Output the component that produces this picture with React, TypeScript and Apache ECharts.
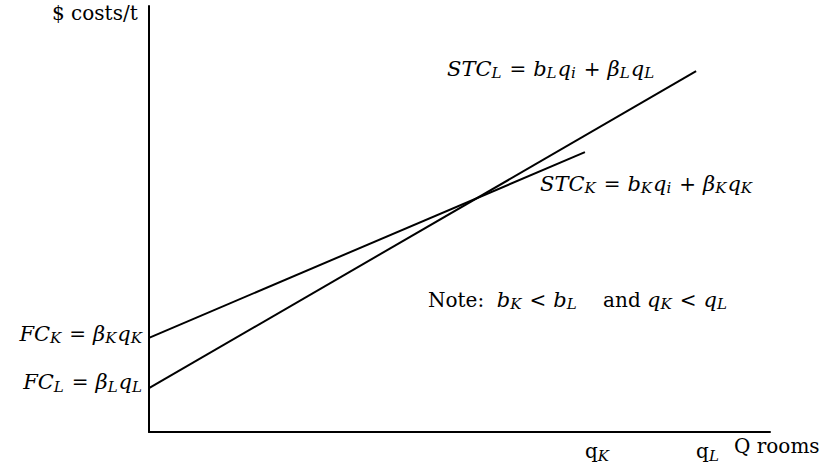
import React, { useEffect, useRef } from "react";
import * as echarts from "echarts";

// Line K (smaller b, larger fixed cost)
const lineKX = [0, 70.2];
const lineKY = [22.1, 65.7];
// Line L (larger b, smaller fixed cost)
const lineLX = [0, 88.1];
const lineLY = [10.3, 84.7];

const xTickValues = [70.2, 88.1];
const xTickLabels = ["{q|q}{s|K}", "{q|q}{s|L}"];
const yTickValues = [22.1, 10.3];
const yTickLabels = [
  "{i|FC}{s|K}{o|=}{i|β}{s|K}{i|q}{s|K}\n{gk|}",
  "{i|FC}{s|L}{o|=}{i|β}{s|L}{i|q}{s|L}\n{gl|}",
];
const yAxisTitle = "{r|$ costs/t}";
const xAxisTitle = "{r|Q rooms}";
const labelSTCL = "{i|STC}{s|L}{o|=}{i|b}{s|L}{i|q}{s|i}{o|+}{i|β}{s|L}{i|q}{s|L}";
const labelSTCK = "{i|STC}{s|K}{o|=}{i|b}{s|K}{i|q}{s|i}{o|+}{i|β}{s|K}{i|q}{s|K}";
const noteLabel = "{r|Note:  }{i|b}{s|K}{o|<}{i|b}{s|L}{r|    and }{i|q}{s|K}{o|<}{i|q}{s|L}";

const FONT = '"DejaVu Serif", "Liberation Serif", serif';
const rich: any = {
  r: { fontFamily: FONT, fontSize: 20, lineHeight: 24, color: "#000" },
  o: { fontFamily: FONT, fontSize: 20, lineHeight: 24, color: "#000", padding: [0, 7, 0, 7] },
  q: { fontFamily: FONT, fontSize: 20, lineHeight: 24, color: "#000" },
  i: { fontFamily: FONT, fontSize: 21, lineHeight: 24, fontStyle: "italic", color: "#000" },
  s: {
    fontFamily: FONT,
    fontSize: 15,
    lineHeight: 14,
    fontStyle: "italic",
    color: "#000",
    verticalAlign: "bottom",
    padding: [0, 1, 0, 0],
  },
  gk: { fontSize: 1, lineHeight: 8 },
  gl: { fontSize: 1, lineHeight: 12 },
};

function pairs(xs: number[], ys: number[]) {
  return xs.map((x, k) => [x, ys[k]]);
}

export default function App() {
  const ref = useRef<HTMLDivElement>(null);
  useEffect(() => {
    if (!ref.current) return;
    const chart = echarts.init(ref.current, null, { renderer: "svg" });
    const txt = (left: number, top: number, text: string, align = "left") => ({
      type: "text",
      left,
      top,
      style: { text, rich, align, fill: "#000" },
    });
    chart.setOption({
      animation: false,
      backgroundColor: "#fff",
      grid: { left: 149, right: 56, top: 6, bottom: 33, outerBoundsMode: "none" },
      xAxis: {
        type: "value",
        min: 0,
        max: 100,
        splitLine: { show: false },
        axisTick: { show: false },
        axisLine: { show: true, lineStyle: { color: "#000", width: 2 } },
        axisLabel: {
          customValues: xTickValues,
          formatter: (v: number) => xTickLabels[xTickValues.indexOf(v)] ?? "",
          rich,
          align: "left",
          margin: 7,
          showMinLabel: true,
          showMaxLabel: true,
        },
      },
      yAxis: {
        type: "value",
        min: 0,
        max: 100,
        splitLine: { show: false },
        axisTick: { show: false },
        axisLine: { show: true, lineStyle: { color: "#000", width: 2 } },
        axisLabel: {
          customValues: yTickValues,
          formatter: (v: number) => yTickLabels[yTickValues.indexOf(v)] ?? "",
          rich,
          margin: 6,
        },
      },
      series: [
        {
          type: "line",
          data: pairs(lineKX, lineKY),
          symbol: "none",
          lineStyle: { color: "#000", width: 2 },
        },
        {
          type: "line",
          data: pairs(lineLX, lineLY),
          symbol: "none",
          lineStyle: { color: "#000", width: 2 },
        },
      ],
      graphic: [
        txt(52, 3, yAxisTitle),
        txt(734, 436, xAxisTitle),
        txt(447, 58, labelSTCL),
        txt(540, 173, labelSTCK),
        txt(428, 289, noteLabel),
      ],
    });
    return () => chart.dispose();
  }, []);
  return (
    <div
      ref={ref}
      style={{ position: "absolute", left: 0, top: 0, width: 826, height: 465, background: "#fff" }}
    />
  );
}
